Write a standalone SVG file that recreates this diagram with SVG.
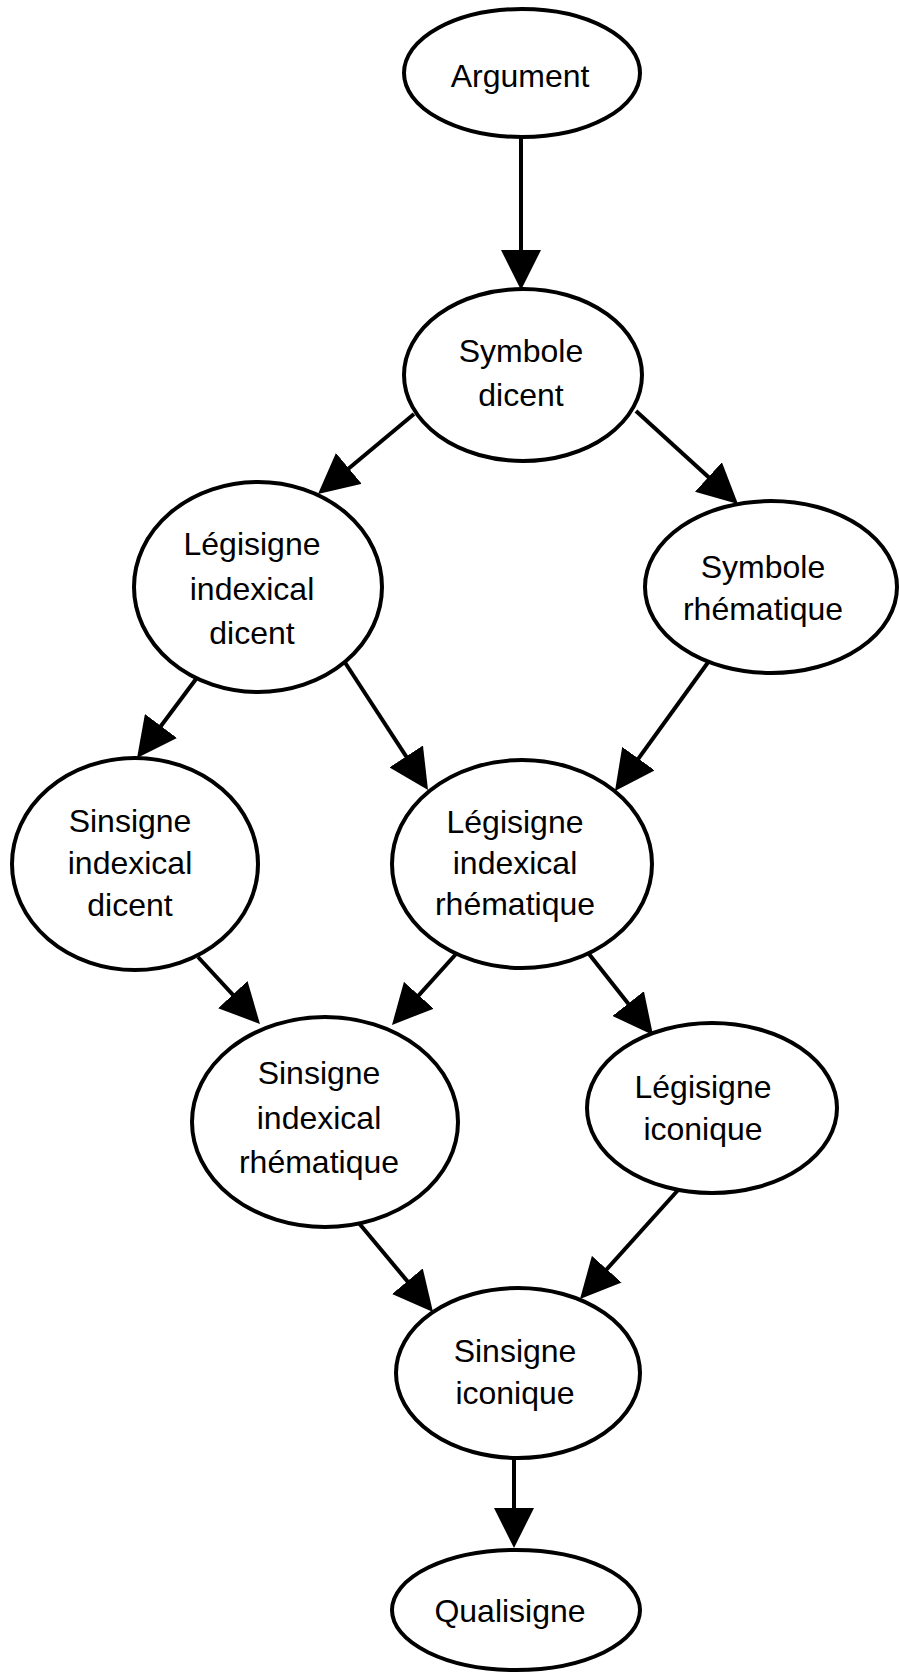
<svg xmlns="http://www.w3.org/2000/svg" width="899" height="1672" viewBox="0 0 899 1672">
<style>
.n{fill:#fff;stroke:#000;stroke-width:4}
.t{font-family:"Liberation Sans",Arial,sans-serif;font-size:32px;fill:#000;text-anchor:middle}
.c{stroke:#000;stroke-width:4;fill:none;marker-end:url(#ah)}
</style>
<defs>
<marker id="ah" markerUnits="userSpaceOnUse" markerWidth="40" markerHeight="40" viewBox="0 0 40 40" refX="20" refY="20" orient="auto">
<path d="M0,0 L40,20 L0,40 Z" fill="#000"/>
</marker>
</defs>
<rect width="899" height="1672" fill="#fff"/>
<g id="connectors">
<line class="c" x1="521" y1="137" x2="521" y2="270"/>
<line class="c" x1="414" y1="414" x2="333.4" y2="481.2"/>
<line class="c" x1="636" y1="411" x2="723.2" y2="490.5"/>
<line class="c" x1="196" y1="679" x2="149" y2="742"/>
<line class="c" x1="344" y1="661" x2="417.1" y2="773.2"/>
<line class="c" x1="709" y1="661" x2="626.7" y2="774.8"/>
<line class="c" x1="198" y1="957" x2="246.4" y2="1009.3"/>
<line class="c" x1="456" y1="954" x2="405.4" y2="1010.1"/>
<line class="c" x1="589" y1="954" x2="640.6" y2="1019.3"/>
<line class="c" x1="358" y1="1222" x2="420.2" y2="1296.6"/>
<line class="c" x1="679" y1="1189" x2="593.4" y2="1284.1"/>
<line class="c" x1="514" y1="1456" x2="514" y2="1528"/>
</g>
<g id="argument">
<ellipse class="n" cx="522" cy="73" rx="118" ry="64"/>
<text class="t" x="520" y="87">Argument</text>
</g>
<g id="symbole-dicent">
<ellipse class="n" cx="523" cy="375" rx="119" ry="86"/>
<text class="t" x="521" y="362">Symbole</text>
<text class="t" x="521" y="406">dicent</text>
</g>
<g id="legisigne-indexical-dicent">
<ellipse class="n" cx="258" cy="587" rx="124" ry="105"/>
<text class="t" x="252" y="555">Légisigne</text>
<text class="t" x="252" y="600">indexical</text>
<text class="t" x="252" y="644">dicent</text>
</g>
<g id="symbole-rhematique">
<ellipse class="n" cx="771" cy="587" rx="126" ry="86"/>
<text class="t" x="763" y="578">Symbole</text>
<text class="t" x="763" y="620">rhématique</text>
</g>
<g id="sinsigne-indexical-dicent">
<ellipse class="n" cx="135" cy="864" rx="123" ry="106"/>
<text class="t" x="130" y="832">Sinsigne</text>
<text class="t" x="130" y="874">indexical</text>
<text class="t" x="130" y="916">dicent</text>
</g>
<g id="legisigne-indexical-rhematique">
<ellipse class="n" cx="522" cy="864" rx="130" ry="104"/>
<text class="t" x="515" y="833">Légisigne</text>
<text class="t" x="515" y="874">indexical</text>
<text class="t" x="515" y="915">rhématique</text>
</g>
<g id="sinsigne-indexical-rhematique">
<ellipse class="n" cx="325" cy="1122" rx="133" ry="105"/>
<text class="t" x="319" y="1084">Sinsigne</text>
<text class="t" x="319" y="1129">indexical</text>
<text class="t" x="319" y="1173">rhématique</text>
</g>
<g id="legisigne-iconique">
<ellipse class="n" cx="712" cy="1108" rx="125" ry="85"/>
<text class="t" x="703" y="1098">Légisigne</text>
<text class="t" x="703" y="1140">iconique</text>
</g>
<g id="sinsigne-iconique">
<ellipse class="n" cx="518" cy="1373" rx="122" ry="85"/>
<text class="t" x="515" y="1362">Sinsigne</text>
<text class="t" x="515" y="1404">iconique</text>
</g>
<g id="qualisigne">
<ellipse class="n" cx="516" cy="1610" rx="124" ry="60"/>
<text class="t" x="510" y="1622">Qualisigne</text>
</g>
</svg>
